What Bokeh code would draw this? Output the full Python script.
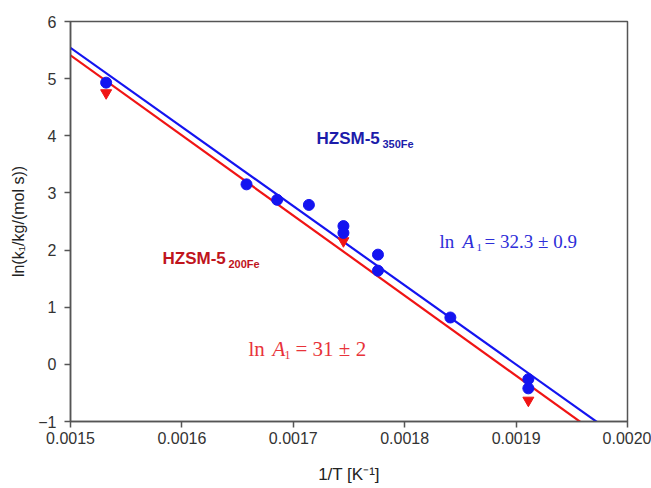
from bokeh.plotting import figure
from bokeh.models import Range1d, FixedTicker, PrintfTickFormatter, Label
from bokeh.embed import file_html
from bokeh.resources import INLINE

# HZSM-5 350Fe (blue circles)
blue_x = [0.001532, 0.001658, 0.0016855, 0.001714, 0.001745, 0.001745,
          0.001776, 0.001776, 0.001841, 0.001911, 0.001911]
blue_y = [4.93, 3.15, 2.88, 2.79, 2.42, 2.30, 1.92, 1.64, 0.82, -0.26, -0.42]

# HZSM-5 200Fe (red triangles)
red_x = [0.001532, 0.001745, 0.001911]
red_y = [4.75, 2.16, -0.63]

# Arrhenius fit lines: y = intercept + slope * x
blue_fit = {"intercept": 26.324, "slope": -13856.0}
red_fit = {"intercept": 26.43, "slope": -14015.0}

x_ticks = [0.0015, 0.0016, 0.0017, 0.0018, 0.0019, 0.0020]
y_ticks = [-1, 0, 1, 2, 3, 4, 5, 6]

BLUE = "#1414f0"
RED = "#f01414"
DARK_BLUE = "#1c1caa"
DARK_RED = "#c0141c"
EQ_BLUE = "#2e2ed8"
EQ_RED = "#e8333a"
AXIS = "#555555"
SANS = "Liberation Sans"
SERIF = "Liberation Serif"

p = figure(width=651, height=488, output_backend="svg", toolbar_location=None,
           x_range=Range1d(x_ticks[0], x_ticks[-1]),
           y_range=Range1d(y_ticks[0], y_ticks[-1]),
           min_border_left=70, min_border_right=24,
           min_border_top=21, min_border_bottom=67)
p.grid.visible = False
p.outline_line_color = AXIS
p.outline_line_width = 1.5

for ax in (p.xaxis[0], p.yaxis[0]):
    ax.axis_line_color = AXIS
    ax.axis_line_width = 1.5
    ax.major_tick_line_color = AXIS
    ax.major_tick_line_width = 1.5
    ax.major_tick_in = 0
    ax.major_tick_out = 6
    ax.minor_tick_line_color = None
    ax.major_label_text_font = SANS
    ax.major_label_text_font_size = "16px"
    ax.major_label_text_color = "#333333"
    ax.axis_label_text_font = SANS
    ax.axis_label_text_font_style = "normal"
    ax.axis_label_text_color = "#222222"

p.xaxis.axis_label_text_font_size = "17px"
p.yaxis.axis_label_text_font_size = "16px"
p.xaxis.ticker = FixedTicker(ticks=x_ticks)
p.xaxis.formatter = PrintfTickFormatter(format="%.4f")
p.yaxis.ticker = FixedTicker(ticks=y_ticks)
p.xaxis.axis_label = "1/T [K\u207b\u00b9]"
p.yaxis.axis_label = "ln(k\u2081/kg/(mol s))"
p.xaxis.major_label_standoff = 4
p.yaxis.major_label_standoff = 8
p.xaxis.axis_label_standoff = 18
p.yaxis.axis_label_standoff = 8

lx = [x_ticks[0], x_ticks[-1]]
p.line(lx, [blue_fit["intercept"] + blue_fit["slope"] * v for v in lx],
       line_color=BLUE, line_width=2.2)
p.line(lx, [red_fit["intercept"] + red_fit["slope"] * v for v in lx],
       line_color=RED, line_width=2.2)

p.scatter(red_x, red_y, marker="inverted_triangle", size=11,
          fill_color=RED, line_color=RED)
p.scatter(blue_x, blue_y, marker="circle", size=11,
          fill_color=BLUE, line_color=BLUE)


def lab(x, y, text, color, font, size, style="normal"):
    p.add_layout(Label(x=x, y=y, text=text, text_color=color, text_font=font,
                       text_font_size=size, text_font_style=style,
                       text_baseline="alphabetic", text_align="left"))


lab(0.0017208, 3.952, "HZSM-5", DARK_BLUE, SANS, "17px", "bold")
lab(0.0017800, 3.865, "350Fe", DARK_BLUE, SANS, "11px", "bold")
lab(0.0015826, 1.852, "HZSM-5", DARK_RED, SANS, "17px", "bold")
lab(0.0016418, 1.765, "200Fe", DARK_RED, SANS, "11px", "bold")

lab(0.0018313, 2.150, "ln", EQ_BLUE, SERIF, "19px")
lab(0.0018519, 2.150, "A", EQ_BLUE, SERIF, "19px", "italic")
lab(0.0018645, 2.045, "1", EQ_BLUE, SERIF, "11px")
lab(0.0018717, 2.150, "= 32.3 \u00b1 0.9", EQ_BLUE, SERIF, "19px")

lab(0.0016598, 0.277, "ln", EQ_RED, SERIF, "21px")
lab(0.0016813, 0.277, "A", EQ_RED, SERIF, "21px", "italic")
lab(0.0016921, 0.172, "1", EQ_RED, SERIF, "12px")
lab(0.0017020, 0.277, "= 31 \u00b1 2", EQ_RED, SERIF, "21px")

open("out.html", "w").write(file_html(p, INLINE))
